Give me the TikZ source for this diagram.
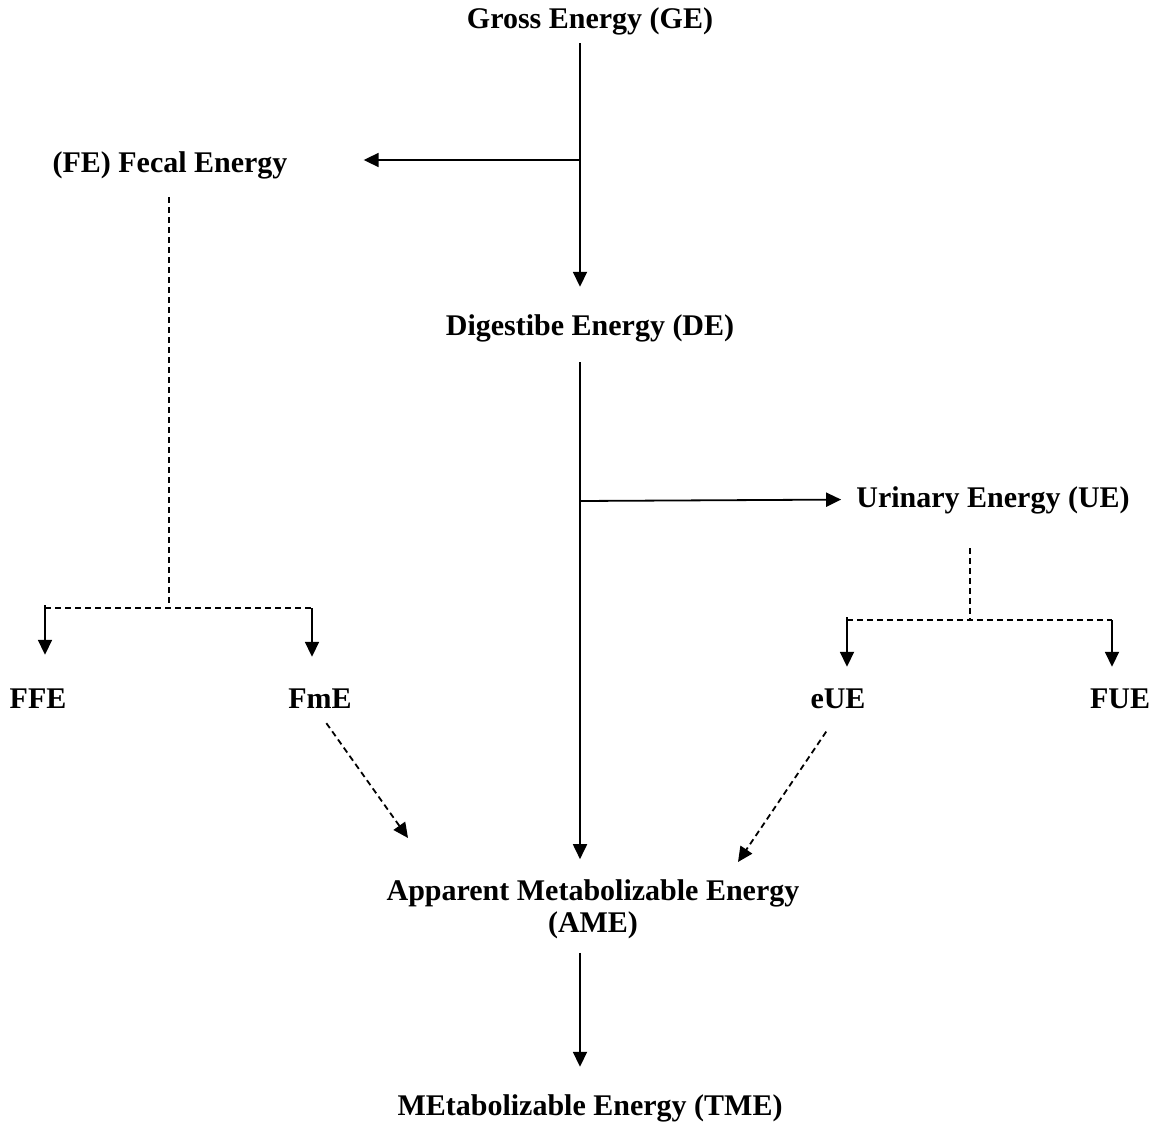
\documentclass[tikz,border=0pt]{standalone}
\usepackage{fontspec}
\setmainfont{Liberation Serif}
\usetikzlibrary{arrows.meta}

\begin{document}
\begin{tikzpicture}[x=1pt,y=-1pt,
    lbl/.style={anchor=base, inner sep=0, text height=21pt, text depth=6pt, font=\fontsize{30}{32}\selectfont\bfseries},
    arr/.style={line width=1.8pt, -{Triangle[length=15pt,width=14pt]}},
    dsh/.style={line width=1.8pt, dash pattern=on 6pt off 4pt}]
    \useasboundingbox (0,0) rectangle (1157,1137);

    \node [lbl] (ge) at (590,29) {Gross Energy (GE)};
    \node [lbl] (fe) at (170,173) {(FE) Fecal Energy};
    \node [lbl] (de) at (590,335) {Digestibe Energy (DE)};
    \node [lbl] (ue) at (993,507) {Urinary Energy (UE)};
    \node [lbl] (ffe) at (38,708) {FFE};
    \node [lbl] (fme) at (320,708) {FmE};
    \node [lbl] (eue) at (838,708) {eUE};
    \node [lbl] (fue) at (1120,708) {FUE};
    \node [lbl, align=center, text height=, text depth=, anchor=center] (ame) at (593,909) {Apparent Metabolizable Energy\\(AME)};
    \node [lbl] (tme) at (590,1115) {MEtabolizable Energy (TME)};

    \coordinate (trunk) at (580,0);
    \coordinate (j1) at (580,160);
    \coordinate (j2) at (580,501);
    \coordinate (fsplit) at (169,608);
    \coordinate (fl) at (45,608);
    \coordinate (fr) at (312,608);
    \coordinate (usplit) at (970,620);
    \coordinate (ul) at (847,620);
    \coordinate (ur) at (1112,620);
    \coordinate (tipl) at (408,838);
    \coordinate (tipr) at (738,862);

    % main line
    \draw [arr, shorten <=8pt, shorten >=27pt] (ge.south -| trunk) -- (de.north -| trunk);
    \draw [arr, shorten <=21pt, shorten >=20pt] (de.south -| trunk) -- (ame.north -| trunk);
    \draw [arr, shorten <=14pt, shorten >=27pt] (ame.south -| trunk) -- (tme.north -| trunk);
    \draw [arr, shorten >=76pt] (j1) -- (j1 -| fe.east);
    \draw [arr, shorten >=15pt] (j2) -- (ue.west);

    % fecal split
    \draw [dsh, shorten <=18pt] (fe.south -| fsplit) -- (fsplit);
    \draw [dsh] (fl) -- (fr);
    \draw [arr, shorten <=-3pt, shorten >=32pt] (fl) -- (fl |- ffe.north);
    \draw [arr, shorten >=30pt] (fr) -- (fr |- fme.north);

    % urinary split
    \draw [dsh, shorten <=35pt] (ue.south -| usplit) -- (usplit);
    \draw [dsh] (ul) -- (ur);
    \draw [arr, shorten <=-3pt, shorten >=20pt] (ul) -- (ul |- eue.north);
    \draw [arr, shorten >=20pt] (ur) -- (ur |- fue.north);

    % to AME
    \draw [dsh, arr, shorten <=11pt] (fme.south) -- (tipl);
    \draw [dsh, arr, shorten <=21pt] (eue.south) -- (tipr);
\end{tikzpicture}
\end{document}
